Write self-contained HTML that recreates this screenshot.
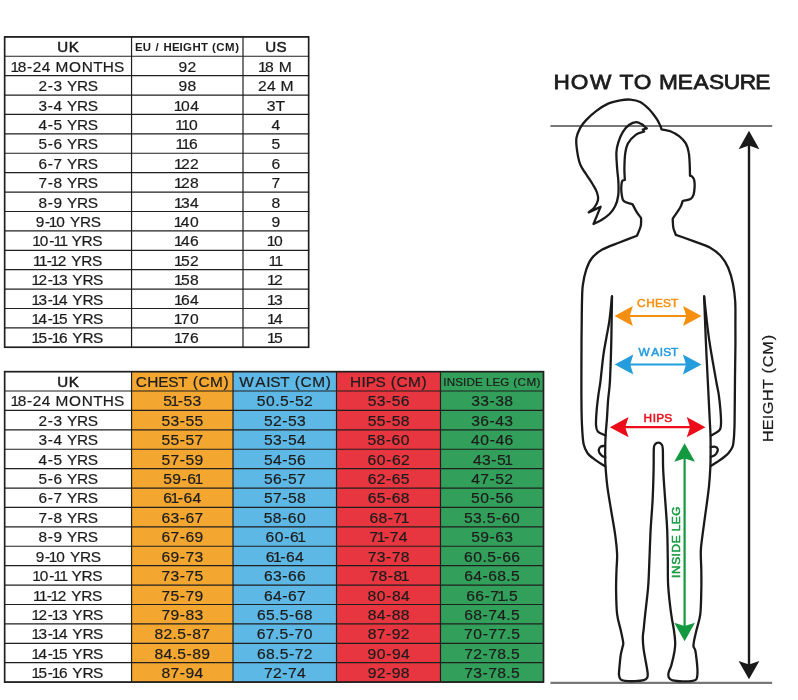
<!DOCTYPE html>
<html lang="en"><head><meta charset="utf-8"><title>Size guide - How to measure</title>
<style>
html,body{margin:0;padding:0;background:#fff;}
body{width:798px;height:700px;overflow:hidden;font-family:"Liberation Sans",sans-serif;}
svg{display:block;position:absolute;left:0;top:0;}
text{font-family:"Liberation Sans",sans-serif;fill:#1c1c1c;text-anchor:middle;}
.gl{stroke:#1f1f1f;stroke-width:1.2;}
.ob{fill:none;stroke:#1f1f1f;stroke-width:1.55;}
.a{font-size:14px;stroke:#1c1c1c;stroke-width:0.2px;}
.d{font-size:14px;stroke:#1c1c1c;stroke-width:0.2px;}
.h{font-size:14px;stroke:#1c1c1c;stroke-width:0.5px;}
.hs{font-size:10.8px;font-weight:bold;}
.hc{font-size:14px;stroke:#1c1c1c;stroke-width:0.2px;}
.hi{font-size:11px;stroke:#1c1c1c;stroke-width:0.2px;}
.ttl{font-size:21px;stroke:#1c1c1c;stroke-width:0.75px;}
.lb{font-size:11px;stroke-width:0.5px;}
.hgt{font-size:15px;stroke:#1c1c1c;stroke-width:0.2px;}
</style></head>
<body>
<svg width="798" height="700" viewBox="0 0 798 700">
<rect width="798" height="700" fill="#fff"/>
<g id="tables">
<line class="gl" x1="4.05" x2="309.15" y1="36.85" y2="36.85"/>
<line class="gl" x1="4.05" x2="309.15" y1="56.25" y2="56.25"/>
<line class="gl" x1="4.05" x2="309.15" y1="75.66" y2="75.66"/>
<line class="gl" x1="4.05" x2="309.15" y1="95.06" y2="95.06"/>
<line class="gl" x1="4.05" x2="309.15" y1="114.46" y2="114.46"/>
<line class="gl" x1="4.05" x2="309.15" y1="133.87" y2="133.87"/>
<line class="gl" x1="4.05" x2="309.15" y1="153.27" y2="153.27"/>
<line class="gl" x1="4.05" x2="309.15" y1="172.67" y2="172.67"/>
<line class="gl" x1="4.05" x2="309.15" y1="192.07" y2="192.07"/>
<line class="gl" x1="4.05" x2="309.15" y1="211.48" y2="211.48"/>
<line class="gl" x1="4.05" x2="309.15" y1="230.88" y2="230.88"/>
<line class="gl" x1="4.05" x2="309.15" y1="250.28" y2="250.28"/>
<line class="gl" x1="4.05" x2="309.15" y1="269.69" y2="269.69"/>
<line class="gl" x1="4.05" x2="309.15" y1="289.09" y2="289.09"/>
<line class="gl" x1="4.05" x2="309.15" y1="308.49" y2="308.49"/>
<line class="gl" x1="4.05" x2="309.15" y1="327.9" y2="327.9"/>
<line class="gl" x1="4.05" x2="309.15" y1="347.3" y2="347.3"/>
<line class="gl" x1="4.6" x2="4.6" y1="36.85" y2="347.3"/>
<line class="gl" x1="131.55" x2="131.55" y1="36.85" y2="347.3"/>
<line class="gl" x1="243" x2="243" y1="36.85" y2="347.3"/>
<line class="gl" x1="308.6" x2="308.6" y1="36.85" y2="347.3"/>
<rect class="ob" x="4.6" y="36.85" width="304" height="310.45"/>
<text class="h" transform="translate(68.08 52.25) scale(1.08 1)" x="-5.01 5.3">UK</text>
<text class="hs" transform="translate(187.28 51.25) scale(1.06 1)" x="-45.7 -38.18 -32.51 -28.39 -24.27 -18.48 -10.85 -5.79 0.22 8.79 16.25 21.26 25.05 31.28 40.19 47.09">EU / HEIGHT (CM)</text>
<text class="h" transform="translate(275.8 52.25) scale(1.08 1)" x="-4.64 5.3">US</text>
<text class="a" transform="translate(68.08 71.7) scale(1.1 1)" x="-48.4 -41.9 -35.08 -28.26 -20.07 -13.86 -5.63 6.28 17.49 27.13 36.63 46.35">18-24 MONTHS</text>
<text class="d" transform="translate(187.28 71.7) scale(1.12 1)" x="-4.02 4.02">92</text>
<text class="d" transform="translate(275.8 71.7) scale(1.12 1)" x="-12.1 -5.71 0.4 8.48">18 M</text>
<text class="a" transform="translate(68.08 91.11) scale(1.1 1)" x="-22.92 -16.1 -9.27 -3.06 3.75 13.25 22.54">2-3 YRS</text>
<text class="d" transform="translate(187.28 91.11) scale(1.12 1)" x="-4.02 4.02">98</text>
<text class="d" transform="translate(275.8 91.11) scale(1.12 1)" x="-12.1 -4.06 2.05 10.13">24 M</text>
<text class="a" transform="translate(68.08 110.51) scale(1.1 1)" x="-22.92 -16.1 -9.27 -3.06 3.75 13.25 22.54">3-4 YRS</text>
<text class="d" transform="translate(187.28 110.51) scale(1.12 1)" x="-8.27 -1.65 6.62">104</text>
<text class="d" transform="translate(275.8 110.51) scale(1.12 1)" x="-4.18 4.02">3T</text>
<text class="a" transform="translate(68.08 129.91) scale(1.1 1)" x="-22.92 -16.1 -9.27 -3.06 3.75 13.25 22.54">4-5 YRS</text>
<text class="d" transform="translate(187.28 129.91) scale(1.12 1)" x="-6.93 -1.57 5.36">110</text>
<text class="d" transform="translate(275.8 129.91) scale(1.12 1)" x="0">4</text>
<text class="a" transform="translate(68.08 149.32) scale(1.1 1)" x="-22.92 -16.1 -9.27 -3.06 3.75 13.25 22.54">5-6 YRS</text>
<text class="d" transform="translate(187.28 149.32) scale(1.12 1)" x="-6.7 -1.34 5.36">116</text>
<text class="d" transform="translate(275.8 149.32) scale(1.12 1)" x="0">5</text>
<text class="a" transform="translate(68.08 168.72) scale(1.1 1)" x="-22.92 -16.1 -9.27 -3.06 3.75 13.25 22.54">6-7 YRS</text>
<text class="d" transform="translate(187.28 168.72) scale(1.12 1)" x="-8.04 -1.65 6.39">122</text>
<text class="d" transform="translate(275.8 168.72) scale(1.12 1)" x="0">6</text>
<text class="a" transform="translate(68.08 188.12) scale(1.1 1)" x="-22.92 -16.1 -9.27 -3.06 3.75 13.25 22.54">7-8 YRS</text>
<text class="d" transform="translate(187.28 188.12) scale(1.12 1)" x="-8.04 -1.65 6.39">128</text>
<text class="d" transform="translate(275.8 188.12) scale(1.12 1)" x="0">7</text>
<text class="a" transform="translate(68.08 207.53) scale(1.1 1)" x="-22.92 -16.1 -9.27 -3.06 3.75 13.25 22.54">8-9 YRS</text>
<text class="d" transform="translate(187.28 207.53) scale(1.12 1)" x="-8.04 -1.65 6.39">134</text>
<text class="d" transform="translate(275.8 207.53) scale(1.12 1)" x="0">8</text>
<text class="a" transform="translate(68.08 226.93) scale(1.1 1)" x="-25.56 -18.74 -13.6 -6.86 -0.41 6.4 15.9 25.19">9-10 YRS</text>
<text class="d" transform="translate(187.28 226.93) scale(1.12 1)" x="-8.27 -1.88 6.39">140</text>
<text class="d" transform="translate(275.8 226.93) scale(1.12 1)" x="0">9</text>
<text class="a" transform="translate(68.08 246.33) scale(1.1 1)" x="-28.61 -21.88 -14.82 -9.36 -3.9 0.96 7.76 17.27 26.56">10-11 YRS</text>
<text class="d" transform="translate(187.28 246.33) scale(1.12 1)" x="-8.04 -1.65 6.39">146</text>
<text class="d" transform="translate(275.8 246.33) scale(1.12 1)" x="-4.25 2.37">10</text>
<text class="a" transform="translate(68.08 265.74) scale(1.1 1)" x="-28.06 -22.6 -17.14 -12 -5.5 0.72 7.53 17.03 26.32">11-12 YRS</text>
<text class="d" transform="translate(187.28 265.74) scale(1.12 1)" x="-8.04 -1.65 6.39">152</text>
<text class="d" transform="translate(275.8 265.74) scale(1.12 1)" x="-2.68 2.68">11</text>
<text class="a" transform="translate(68.08 285.14) scale(1.1 1)" x="-29.42 -22.92 -16.1 -10.96 -4.45 1.77 8.57 18.07 27.36">12-13 YRS</text>
<text class="d" transform="translate(187.28 285.14) scale(1.12 1)" x="-8.04 -1.65 6.39">158</text>
<text class="d" transform="translate(275.8 285.14) scale(1.12 1)" x="-4.02 2.37">12</text>
<text class="a" transform="translate(68.08 304.54) scale(1.1 1)" x="-29.42 -22.92 -16.1 -10.96 -4.45 1.77 8.57 18.07 27.36">13-14 YRS</text>
<text class="d" transform="translate(187.28 304.54) scale(1.12 1)" x="-8.04 -1.65 6.39">164</text>
<text class="d" transform="translate(275.8 304.54) scale(1.12 1)" x="-4.02 2.37">13</text>
<text class="a" transform="translate(68.08 323.95) scale(1.1 1)" x="-29.42 -22.92 -16.1 -10.96 -4.45 1.77 8.57 18.07 27.36">14-15 YRS</text>
<text class="d" transform="translate(187.28 323.95) scale(1.12 1)" x="-8.27 -1.88 6.39">170</text>
<text class="d" transform="translate(275.8 323.95) scale(1.12 1)" x="-4.02 2.37">14</text>
<text class="a" transform="translate(68.08 343.35) scale(1.1 1)" x="-29.42 -22.92 -16.1 -10.96 -4.45 1.77 8.57 18.07 27.36">15-16 YRS</text>
<text class="d" transform="translate(187.28 343.35) scale(1.12 1)" x="-8.04 -1.65 6.39">176</text>
<text class="d" transform="translate(275.8 343.35) scale(1.12 1)" x="-4.02 2.37">15</text>
<rect x="131.55" y="371.6" width="101.45" height="310.5" fill="#F4A730"/>
<rect x="233" y="371.6" width="103.5" height="310.5" fill="#5EB8E5"/>
<rect x="336.5" y="371.6" width="104" height="310.5" fill="#E83640"/>
<rect x="440.5" y="371.6" width="103" height="310.5" fill="#32A05A"/>
<line class="gl" x1="4.05" x2="544.05" y1="371.6" y2="371.6"/>
<line class="gl" x1="4.05" x2="544.05" y1="391.01" y2="391.01"/>
<line class="gl" x1="4.05" x2="544.05" y1="410.41" y2="410.41"/>
<line class="gl" x1="4.05" x2="544.05" y1="429.82" y2="429.82"/>
<line class="gl" x1="4.05" x2="544.05" y1="449.23" y2="449.23"/>
<line class="gl" x1="4.05" x2="544.05" y1="468.63" y2="468.63"/>
<line class="gl" x1="4.05" x2="544.05" y1="488.04" y2="488.04"/>
<line class="gl" x1="4.05" x2="544.05" y1="507.44" y2="507.44"/>
<line class="gl" x1="4.05" x2="544.05" y1="526.85" y2="526.85"/>
<line class="gl" x1="4.05" x2="544.05" y1="546.26" y2="546.26"/>
<line class="gl" x1="4.05" x2="544.05" y1="565.66" y2="565.66"/>
<line class="gl" x1="4.05" x2="544.05" y1="585.07" y2="585.07"/>
<line class="gl" x1="4.05" x2="544.05" y1="604.48" y2="604.48"/>
<line class="gl" x1="4.05" x2="544.05" y1="623.88" y2="623.88"/>
<line class="gl" x1="4.05" x2="544.05" y1="643.29" y2="643.29"/>
<line class="gl" x1="4.05" x2="544.05" y1="662.69" y2="662.69"/>
<line class="gl" x1="4.05" x2="544.05" y1="682.1" y2="682.1"/>
<line class="gl" x1="4.6" x2="4.6" y1="371.6" y2="682.1"/>
<line class="gl" x1="131.55" x2="131.55" y1="371.6" y2="682.1"/>
<line class="gl" x1="233" x2="233" y1="371.6" y2="682.1"/>
<line class="gl" x1="336.5" x2="336.5" y1="371.6" y2="682.1"/>
<line class="gl" x1="440.5" x2="440.5" y1="371.6" y2="682.1"/>
<line class="gl" x1="543.5" x2="543.5" y1="371.6" y2="682.1"/>
<rect class="ob" x="4.6" y="371.6" width="538.9" height="310.5"/>
<text class="h" transform="translate(68.08 387) scale(1.08 1)" x="-5.01 5.3">UK</text>
<text class="hc" transform="translate(182.28 387.05) scale(1.1 1)" x="-37.3 -26.8 -17.09 -8.15 0.57 6.95 11.77 19.71 31.06 39.85">CHEST (CM)</text>
<text class="hc" transform="translate(284.75 387.05) scale(1.1 1)" x="-34.82 -22.12 -14.89 -8.44 0.28 6.67 11.49 19.43 30.77 39.57">WAIST (CM)</text>
<text class="hc" transform="translate(388.5 387.05) scale(1.1 1)" x="-29.85 -22.62 -16.1 -7.09 -0.5 4.33 12.27 23.61 32.41">HIPS (CM)</text>
<text class="hi" transform="translate(492 386.05) scale(1.06 1)" x="-44.47 -38.7 -30.98 -25.93 -20.15 -12.44 -7.27 -2.5 4.11 12.05 18.15 21.93 28.15 37.03 43.92">INSIDE LEG (CM)</text>
<text class="a" transform="translate(68.08 406.46) scale(1.1 1)" x="-48.4 -41.9 -35.08 -28.26 -20.07 -13.86 -5.63 6.28 17.49 27.13 36.63 46.35">18-24 MONTHS</text>
<text class="d" transform="translate(182.28 406.46) scale(1.12 1)" x="-13.09 -6.7 -1.65 5.05 13.09">51-53</text>
<text class="d" transform="translate(284.75 406.46) scale(1.12 1)" x="-21.04 -12.77 -6.47 -0.4 6.3 13 21.04">50.5-52</text>
<text class="d" transform="translate(388.5 406.46) scale(1.12 1)" x="-14.74 -6.7 0 6.7 14.74">53-56</text>
<text class="d" transform="translate(492 406.46) scale(1.12 1)" x="-14.74 -6.7 0 6.7 14.74">33-38</text>
<text class="a" transform="translate(68.08 425.87) scale(1.1 1)" x="-22.92 -16.1 -9.27 -3.06 3.75 13.25 22.54">2-3 YRS</text>
<text class="d" transform="translate(182.28 425.87) scale(1.12 1)" x="-14.74 -6.7 0 6.7 14.74">53-55</text>
<text class="d" transform="translate(284.75 425.87) scale(1.12 1)" x="-14.74 -6.7 0 6.7 14.74">52-53</text>
<text class="d" transform="translate(388.5 425.87) scale(1.12 1)" x="-14.74 -6.7 0 6.7 14.74">55-58</text>
<text class="d" transform="translate(492 425.87) scale(1.12 1)" x="-14.74 -6.7 0 6.7 14.74">36-43</text>
<text class="a" transform="translate(68.08 445.27) scale(1.1 1)" x="-22.92 -16.1 -9.27 -3.06 3.75 13.25 22.54">3-4 YRS</text>
<text class="d" transform="translate(182.28 445.27) scale(1.12 1)" x="-14.74 -6.7 0 6.7 14.74">55-57</text>
<text class="d" transform="translate(284.75 445.27) scale(1.12 1)" x="-14.74 -6.7 0 6.7 14.74">53-54</text>
<text class="d" transform="translate(388.5 445.27) scale(1.12 1)" x="-14.97 -6.93 -0.23 6.47 14.74">58-60</text>
<text class="d" transform="translate(492 445.27) scale(1.12 1)" x="-14.97 -6.7 0.23 6.93 14.97">40-46</text>
<text class="a" transform="translate(68.08 464.68) scale(1.1 1)" x="-22.92 -16.1 -9.27 -3.06 3.75 13.25 22.54">4-5 YRS</text>
<text class="d" transform="translate(182.28 464.68) scale(1.12 1)" x="-14.74 -6.7 0 6.7 14.74">57-59</text>
<text class="d" transform="translate(284.75 464.68) scale(1.12 1)" x="-14.74 -6.7 0 6.7 14.74">54-56</text>
<text class="d" transform="translate(388.5 464.68) scale(1.12 1)" x="-14.97 -6.7 0.23 6.93 14.97">60-62</text>
<text class="d" transform="translate(492 464.68) scale(1.12 1)" x="-13.09 -5.05 1.65 8.35 14.74">43-51</text>
<text class="a" transform="translate(68.08 484.08) scale(1.1 1)" x="-22.92 -16.1 -9.27 -3.06 3.75 13.25 22.54">5-6 YRS</text>
<text class="d" transform="translate(182.28 484.08) scale(1.12 1)" x="-13.09 -5.05 1.65 8.35 14.74">59-61</text>
<text class="d" transform="translate(284.75 484.08) scale(1.12 1)" x="-14.74 -6.7 0 6.7 14.74">56-57</text>
<text class="d" transform="translate(388.5 484.08) scale(1.12 1)" x="-14.74 -6.7 0 6.7 14.74">62-65</text>
<text class="d" transform="translate(492 484.08) scale(1.12 1)" x="-14.74 -6.7 0 6.7 14.74">47-52</text>
<text class="a" transform="translate(68.08 503.49) scale(1.1 1)" x="-22.92 -16.1 -9.27 -3.06 3.75 13.25 22.54">6-7 YRS</text>
<text class="d" transform="translate(182.28 503.49) scale(1.12 1)" x="-13.09 -6.7 -1.65 5.05 13.09">61-64</text>
<text class="d" transform="translate(284.75 503.49) scale(1.12 1)" x="-14.74 -6.7 0 6.7 14.74">57-58</text>
<text class="d" transform="translate(388.5 503.49) scale(1.12 1)" x="-14.74 -6.7 0 6.7 14.74">65-68</text>
<text class="d" transform="translate(492 503.49) scale(1.12 1)" x="-14.97 -6.7 0.23 6.93 14.97">50-56</text>
<text class="a" transform="translate(68.08 522.9) scale(1.1 1)" x="-22.92 -16.1 -9.27 -3.06 3.75 13.25 22.54">7-8 YRS</text>
<text class="d" transform="translate(182.28 522.9) scale(1.12 1)" x="-14.74 -6.7 0 6.7 14.74">63-67</text>
<text class="d" transform="translate(284.75 522.9) scale(1.12 1)" x="-14.97 -6.93 -0.23 6.47 14.74">58-60</text>
<text class="d" transform="translate(388.5 522.9) scale(1.12 1)" x="-13.09 -5.05 1.65 8.35 14.74">68-71</text>
<text class="d" transform="translate(492 522.9) scale(1.12 1)" x="-21.04 -13 -6.93 -0.86 5.84 12.54 20.81">53.5-60</text>
<text class="a" transform="translate(68.08 542.3) scale(1.1 1)" x="-22.92 -16.1 -9.27 -3.06 3.75 13.25 22.54">8-9 YRS</text>
<text class="d" transform="translate(182.28 542.3) scale(1.12 1)" x="-14.74 -6.7 0 6.7 14.74">67-69</text>
<text class="d" transform="translate(284.75 542.3) scale(1.12 1)" x="-13.32 -5.05 1.88 8.58 14.97">60-61</text>
<text class="d" transform="translate(388.5 542.3) scale(1.12 1)" x="-13.09 -6.7 -1.65 5.05 13.09">71-74</text>
<text class="d" transform="translate(492 542.3) scale(1.12 1)" x="-14.74 -6.7 0 6.7 14.74">59-63</text>
<text class="a" transform="translate(68.08 561.71) scale(1.1 1)" x="-25.56 -18.74 -13.6 -6.86 -0.41 6.4 15.9 25.19">9-10 YRS</text>
<text class="d" transform="translate(182.28 561.71) scale(1.12 1)" x="-14.74 -6.7 0 6.7 14.74">69-73</text>
<text class="d" transform="translate(284.75 561.71) scale(1.12 1)" x="-13.09 -6.7 -1.65 5.05 13.09">61-64</text>
<text class="d" transform="translate(388.5 561.71) scale(1.12 1)" x="-14.74 -6.7 0 6.7 14.74">73-78</text>
<text class="d" transform="translate(492 561.71) scale(1.12 1)" x="-21.04 -12.77 -6.47 -0.4 6.3 13 21.04">60.5-66</text>
<text class="a" transform="translate(68.08 581.12) scale(1.1 1)" x="-28.61 -21.88 -14.82 -9.36 -3.9 0.96 7.76 17.27 26.56">10-11 YRS</text>
<text class="d" transform="translate(182.28 581.12) scale(1.12 1)" x="-14.74 -6.7 0 6.7 14.74">73-75</text>
<text class="d" transform="translate(284.75 581.12) scale(1.12 1)" x="-14.74 -6.7 0 6.7 14.74">63-66</text>
<text class="d" transform="translate(388.5 581.12) scale(1.12 1)" x="-13.09 -5.05 1.65 8.35 14.74">78-81</text>
<text class="d" transform="translate(492 581.12) scale(1.12 1)" x="-20.81 -12.77 -6.07 0.63 8.66 14.74 20.81">64-68.5</text>
<text class="a" transform="translate(68.08 600.52) scale(1.1 1)" x="-28.06 -22.6 -17.14 -12 -5.5 0.72 7.53 17.03 26.32">11-12 YRS</text>
<text class="d" transform="translate(182.28 600.52) scale(1.12 1)" x="-14.74 -6.7 0 6.7 14.74">75-79</text>
<text class="d" transform="translate(284.75 600.52) scale(1.12 1)" x="-14.74 -6.7 0 6.7 14.74">64-67</text>
<text class="d" transform="translate(388.5 600.52) scale(1.12 1)" x="-14.97 -6.7 0.23 6.93 14.97">80-84</text>
<text class="d" transform="translate(492 600.52) scale(1.12 1)" x="-19.16 -11.12 -4.42 2.28 8.66 13.09 19.16">66-71.5</text>
<text class="a" transform="translate(68.08 619.93) scale(1.1 1)" x="-29.42 -22.92 -16.1 -10.96 -4.45 1.77 8.57 18.07 27.36">12-13 YRS</text>
<text class="d" transform="translate(182.28 619.93) scale(1.12 1)" x="-14.74 -6.7 0 6.7 14.74">79-83</text>
<text class="d" transform="translate(284.75 619.93) scale(1.12 1)" x="-20.81 -12.77 -6.7 -0.63 6.07 12.77 20.81">65.5-68</text>
<text class="d" transform="translate(388.5 619.93) scale(1.12 1)" x="-14.74 -6.7 0 6.7 14.74">84-88</text>
<text class="d" transform="translate(492 619.93) scale(1.12 1)" x="-20.81 -12.77 -6.07 0.63 8.66 14.74 20.81">68-74.5</text>
<text class="a" transform="translate(68.08 639.33) scale(1.1 1)" x="-29.42 -22.92 -16.1 -10.96 -4.45 1.77 8.57 18.07 27.36">13-14 YRS</text>
<text class="d" transform="translate(182.28 639.33) scale(1.12 1)" x="-20.81 -12.77 -6.7 -0.63 6.07 12.77 20.81">82.5-87</text>
<text class="d" transform="translate(284.75 639.33) scale(1.12 1)" x="-21.04 -13 -6.93 -0.86 5.84 12.54 20.81">67.5-70</text>
<text class="d" transform="translate(388.5 639.33) scale(1.12 1)" x="-14.74 -6.7 0 6.7 14.74">87-92</text>
<text class="d" transform="translate(492 639.33) scale(1.12 1)" x="-21.04 -12.77 -5.84 0.86 8.89 14.97 21.04">70-77.5</text>
<text class="a" transform="translate(68.08 658.74) scale(1.1 1)" x="-29.42 -22.92 -16.1 -10.96 -4.45 1.77 8.57 18.07 27.36">14-15 YRS</text>
<text class="d" transform="translate(182.28 658.74) scale(1.12 1)" x="-20.81 -12.77 -6.7 -0.63 6.07 12.77 20.81">84.5-89</text>
<text class="d" transform="translate(284.75 658.74) scale(1.12 1)" x="-20.81 -12.77 -6.7 -0.63 6.07 12.77 20.81">68.5-72</text>
<text class="d" transform="translate(388.5 658.74) scale(1.12 1)" x="-14.97 -6.7 0.23 6.93 14.97">90-94</text>
<text class="d" transform="translate(492 658.74) scale(1.12 1)" x="-20.81 -12.77 -6.07 0.63 8.66 14.74 20.81">72-78.5</text>
<text class="a" transform="translate(68.08 678.15) scale(1.1 1)" x="-29.42 -22.92 -16.1 -10.96 -4.45 1.77 8.57 18.07 27.36">15-16 YRS</text>
<text class="d" transform="translate(182.28 678.15) scale(1.12 1)" x="-14.74 -6.7 0 6.7 14.74">87-94</text>
<text class="d" transform="translate(284.75 678.15) scale(1.12 1)" x="-14.74 -6.7 0 6.7 14.74">72-74</text>
<text class="d" transform="translate(388.5 678.15) scale(1.12 1)" x="-14.74 -6.7 0 6.7 14.74">92-98</text>
<text class="d" transform="translate(492 678.15) scale(1.12 1)" x="-20.81 -12.77 -6.07 0.63 8.66 14.74 20.81">73-78.5</text>
</g>
<g id="figure">
<line x1="550.4" x2="772.2" y1="126" y2="126" stroke="#787878" stroke-width="2.15"/>
<line x1="550.4" x2="772.2" y1="682.9" y2="682.9" stroke="#787878" stroke-width="2.15"/>
<g fill="none" stroke="#1a1a1a" stroke-width="2.3" stroke-linejoin="round" stroke-linecap="round">
<path d="M660.8 126.7C659.7 124.6 658.8 122.3 657.6 120.3C656.4 118.3 655 116.5 653.5 114.5C652 112.5 650.6 110.6 648.4 108.5C646.2 106.4 643.2 103.5 640.2 102C637.2 100.5 633.5 99.9 630.2 99.6C626.9 99.3 623.9 99.7 620.2 100.4C616.5 101.1 612.1 101.8 608.1 103.6C604.1 105.4 599.8 108.3 596.1 111.1C592.4 113.8 588.8 117.3 586.1 120.1C583.4 122.9 581.7 125.1 580.1 128.1C578.5 131.1 576.9 134.4 576.4 138.1C575.9 141.8 576.4 145.8 577 150.2C577.6 154.5 578.6 160.2 580.1 164.2C581.6 168.2 584 170.9 586.1 174.2C588.2 177.5 590.7 180.9 592.5 184C594.3 187.1 596.1 189.8 597 192.5C597.9 195.2 598.5 197.5 598 200C597.5 202.5 595.8 205.6 594.3 207.7C592.8 209.8 590.5 210.8 588.7 212.4C592.6 210.6 596.7 208.6 600.6 206.8C598.3 212.5 595.8 218.3 593.5 224C596.1 222.7 598.8 221.7 601.5 220C604.2 218.3 607.2 216.3 609.5 214C611.8 211.7 613.6 209.4 615.1 206.3C616.6 203.2 617.7 199.6 618.2 195.5C618.8 191.4 618.6 186.6 618.4 182C618.2 177.4 617.4 172.7 617.1 167.8C616.8 162.9 616.2 156.7 616.4 152.4C616.6 148.1 617.3 145.5 618.4 142.1C619.5 138.7 621.1 134.8 622.9 131.9C624.7 129 627.1 126.4 629.3 124.8C631.5 123.2 634.3 122.3 636.3 122.2C638.3 122.1 639.8 123.1 641.5 124.1C643.2 125.1 644.9 127 646.6 128.4"/>
<path d="M646.6 128.4C645.3 128.8 644.1 129.2 642.8 129.6C643.2 130.2 643.7 130.9 644.1 131.5C641.3 132.6 638.4 132.8 635.7 134.8C633 136.8 629.8 140.2 628 143.4C626.2 146.6 625.8 149.6 625.2 153.7C624.6 157.8 624.5 163.4 624.4 167.8C624.3 172.2 624.7 176 624.8 180C623.9 180.3 622.8 179.8 622.2 181C621.6 182.2 621.4 184.8 621.3 187.1C621.2 189.4 621.4 192.7 621.8 195C622.2 197.3 622.1 199.6 623.9 201.2C625.7 202.8 629.7 203.3 632.6 204.4C633.8 206.7 634.9 209 636.3 211.3C637.7 213.6 639.5 215.9 641.1 218.2C641 220.9 641.4 223.4 640.7 226.3C640 229.2 638.2 232.6 636.9 235.7C631.1 237.9 625.2 240.2 619.4 242.5C613.6 244.8 606.9 247 602.3 249.6C597.7 252.2 594.7 254.7 592 258C589.3 261.3 587.8 264.8 586.3 269.4C584.8 274 583.5 280.1 582.8 285.4C582.1 290.7 582.2 294.9 582 301.4C581.8 307.9 581.8 316.6 581.7 324.2C581.6 331.8 581.5 335.3 581.5 347C581.5 358.7 581.3 381.5 581.4 394.3C581.5 407.1 581.5 415.3 581.9 423.6C582.3 431.9 582.6 439.2 583.6 444.1C584.6 449 585.6 450.5 587.6 453.2C589.6 455.9 592.7 457.9 595.6 460.1C598.5 462.3 602.1 464.3 605.3 466.4"/>
<path d="M660.8 126.7C661 127.6 661.2 128.4 661.4 129.3C664.4 129.9 667.4 130 670.4 131.2C673.4 132.4 676.8 134.3 679.4 136.3C682 138.3 684.2 140.7 685.8 143.4C687.3 146.1 688.1 149 688.7 152.4C689.4 155.8 689.5 160.1 689.7 164C689.9 167.9 689.9 171.8 690 175.6C690.8 176 691.6 176.1 692.3 176.8C693 177.6 693.8 178.4 694.2 180.1C694.6 181.8 694.7 184.6 694.6 187.1C694.5 189.6 694.2 192.8 693.5 194.8C692.8 196.8 692.4 198 690.6 199C688.8 200 685.3 200.3 682.7 201C681.9 203.1 681.9 204.5 680.2 207.5C678.5 210.5 675.2 215.1 672.7 218.8C672.9 221.7 672.8 224.9 673.3 227.6C673.8 230.3 675 232.4 675.8 234.8C682.1 237 689.1 239.5 694.8 241.6C700.5 243.7 705.5 245 709.8 247.4C714.1 249.8 717.7 252.6 720.8 256C723.9 259.4 726.3 263.3 728.3 268C730.3 272.7 731.9 278.4 733 284C734.1 289.6 734.8 294.7 735.2 301.4C735.6 308.1 735.4 316.6 735.4 324.2C735.4 331.8 735.5 338.2 735.4 347C735.3 355.8 735.1 364.9 735 377.2C734.9 389.5 734.7 412 734.6 421C734.5 430 734.4 428 734.3 431C734.2 434 734.1 436.4 733.8 439C733.5 441.6 733.5 444.3 732.6 446.6C731.7 448.9 730.2 451 728.6 452.9C727 454.8 724.8 456.5 722.9 458C721 459.5 719.1 460.7 717.1 462C715.1 463.3 712.9 464.7 710.8 466"/>
<path d="M612 296.4C611.8 309.8 611.7 323.2 611.4 337.1C611.1 351 610.5 369.5 610 380C609.5 390.5 608.6 393.7 608.1 400C607.6 406.3 607.4 411.9 607 417.8C606.6 423.7 605.9 429.8 605.6 435.5C605.3 441.2 605.2 446.9 605.2 452C605.2 457.1 605.1 460.7 605.5 466.4C605.9 472.1 606.4 478.8 607.3 486.1C608.2 493.4 609.8 502.2 611.1 510.2C612.4 518.2 614.1 526.9 615.1 534.3C616.1 541.6 616.9 548.3 617.1 554.3C617.3 560.2 616.7 564 616.5 570C616.3 576 616 582.6 616.1 590C616.2 597.4 616.3 607.4 617.1 614.1C617.9 620.8 619.7 625.3 620.7 630C621.7 634.7 622.9 639.7 623.2 642.5C623.5 645.3 623 644.7 622.6 646.8C622.2 648.9 621.2 651.6 620.7 655.1C620.2 658.6 619.7 664.3 619.4 667.6C619.1 670.9 618.8 673.1 619 675.1C619.2 677.1 619.7 678.5 620.7 679.5C621.7 680.5 622.6 680.6 625 680.9C627.4 681.2 632 681.3 635.1 681.2C638.2 681.1 641.8 680.8 643.8 680.2C645.8 679.6 646.7 678.9 647.3 677.6C647.9 676.3 647.9 675.3 647.6 672.6C647.3 669.9 646.4 665.3 645.7 661.3C645 657.3 644.1 652.8 643.6 648.8C643.1 644.8 642.8 640.6 642.8 637.5C642.8 634.4 643.2 633.9 643.6 630C644 626.1 644.4 621.4 645.2 614.1C646 606.8 647.5 595.1 648.2 586.1C648.9 577.1 649 569.3 649.4 560C649.8 550.7 650.1 540.3 650.6 530.3C651.1 520.3 652.1 510.2 652.6 500.2C653.1 490.2 653.4 478.6 653.6 470.1C653.8 461.6 653.6 453.3 653.8 449C654 444.7 654.2 445.6 655 444.5C655.8 443.4 657.2 442.6 658.3 442.6C659.4 442.6 660.9 443.4 661.6 444.5C662.4 445.6 662.5 444.7 662.8 449C663.1 453.3 662.8 461.6 663.2 470.1C663.6 478.6 664.5 490.2 665.2 500.2C665.9 510.2 666.8 520.3 667.2 530.3C667.6 540.3 667.6 550.7 667.8 560C668 569.3 667.6 577.1 668.2 586.1C668.8 595.1 670.2 606.8 671.2 614.1C672.2 621.4 673.2 625.3 673.9 630C674.6 634.7 675.1 639 675.2 642.5C675.3 646 675.1 647.5 674.5 651.3C673.9 655.1 672.4 661.5 671.4 665.1C670.4 668.7 669 670.5 668.6 672.6C668.2 674.7 668.2 676.3 668.9 677.6C669.6 678.9 670.4 679.8 672.7 680.4C675 681 679.4 681.3 682.7 681.4C686 681.5 690.4 681.2 692.7 680.8C695 680.4 695.7 680.5 696.5 678.9C697.3 677.3 697.5 674.8 697.5 671.4C697.5 668 696.9 662.3 696.5 658.8C696.1 655.2 695.7 652.2 695.2 650.1C694.7 648 693.7 648 693.5 646.3C693.3 644.6 693.7 642.7 694.2 640C694.7 637.3 695.5 634.3 696.5 630C697.5 625.7 699.5 620.8 700.3 614.1C701.1 607.4 701.1 597.4 701.3 590C701.5 582.6 701.4 576.5 701.3 570C701.2 563.5 700.6 557 700.8 551C701 545 701.8 541.1 702.6 534.3C703.5 527.5 704.8 518.2 705.9 510.2C707 502.2 708.3 493.1 709 486.1C709.7 479.1 710 473.7 710.3 468C710.6 462.3 710.6 457.5 710.6 452C710.6 446.5 710.7 440.8 710.5 435C710.3 429.2 710 425.3 709.6 417C709.2 408.7 708.6 397.8 708 385C707.4 372.2 706.4 354.8 705.8 340C705.1 325.2 704.7 310.8 704.1 296.4"/>
<path d="M612 296.4C611.2 304.2 610.4 313.2 609.5 320C608.6 326.8 607.5 331.2 606.5 337C605.5 342.8 604.4 347.7 603.4 355C602.4 362.3 601.3 374.3 600.5 381C599.7 387.7 599 390.2 598.4 395C597.8 399.8 597.1 404.9 596.7 409.8C596.3 414.8 595.8 421.1 596 424.7C596.2 428.3 596.2 429.7 597.8 431.5C599.4 433.3 603 434.2 605.5 435.5"/>
<path d="M704.1 296.4C705.7 310.3 707 324.7 709 338.6C711 352.5 714.4 370.6 716 380C717.6 389.4 718.1 390 718.8 395C719.5 400 720 405 720.4 409.8C720.8 414.6 721.2 420.2 721 423.6C720.8 427 721.1 428.2 719.4 430.2C717.7 432.2 713.6 433.9 710.8 435.7"/>
<path d="M605 445.8C603.6 446.1 601.7 445.9 600.7 446.6C599.7 447.3 599 448.7 598.8 449.8C598.6 450.9 599 452.1 599.6 453.2C600.2 454.2 601.5 455.4 602.4 456.1C603.3 456.8 604.3 456.8 605.3 457.2"/>
<path d="M710.8 447C712.3 446.9 714.2 446.5 715.4 446.8C716.5 447.1 717.4 448.1 717.7 449C718 449.9 717.6 451.3 717.1 452.3C716.6 453.3 716 454.3 714.9 455.1C713.8 455.9 712.2 456.4 710.8 457"/>
</g>
<line y1="144.6" y2="665.5" x1="749" x2="749" stroke="#1a1a1a" stroke-width="2.4"/><path fill="#1a1a1a" d="M749 130.8L738.6 149.2L749 145.6L759.4 149.2Z"/><path fill="#1a1a1a" d="M749 679.3L738.6 660.9L749 664.5L759.4 660.9Z"/>
<line x1="628.7" x2="687.3" y1="316" y2="316" stroke="#F58F10" stroke-width="1.9"/><path fill="#F58F10" d="M614.5 316L632.9 306.1L629.7 316L632.9 325.9Z"/><path fill="#F58F10" d="M701.5 316L683.1 306.1L686.3 316L683.1 325.9Z"/>
<line x1="629.2" x2="687" y1="364.5" y2="364.5" stroke="#259DDC" stroke-width="1.9"/><path fill="#259DDC" d="M614.7 364.5L633.3 354.6L630.2 364.5L633.3 374.4Z"/><path fill="#259DDC" d="M701.5 364.5L682.9 354.6L686 364.5L682.9 374.4Z"/>
<line x1="624.2" x2="691.1" y1="427.2" y2="427.2" stroke="#EC0C1A" stroke-width="2.3"/><path fill="#EC0C1A" d="M609.8 427.2L628.6 417.1L625.2 427.2L628.6 437.3Z"/><path fill="#EC0C1A" d="M705.5 427.2L686.7 417.1L690.1 427.2L686.7 437.3Z"/>
<line y1="457.5" y2="627" x1="684.6" x2="684.6" stroke="#139A41" stroke-width="2.2"/><path fill="#139A41" d="M684.6 443.2L674.2 461.7L684.6 458.5L695 461.7Z"/><path fill="#139A41" d="M684.6 641.3L674.2 622.8L684.6 626L695 622.8Z"/>
<text class="ttl" transform="translate(661.6 88.8) scale(1.08 1)" x="-92.47 -76.04 -56.35 -42.13 -32.65 -17.69 -5.9 6.32 22.01 36.44 50.87 65.09 79.84 93.63">HOW TO MEASURE</text>
<text class="lb" style="fill:#F58F10;stroke:#F58F10" transform="translate(657.5 306.6) scale(1.08 1)" x="-15.05 -6.48 1.45 8.74 15.86">CHEST</text>
<text class="lb" style="fill:#259DDC;stroke:#259DDC" transform="translate(658 356.1) scale(1.08 1)" x="-12.92 -2.64 3.21 8.44 15.5">WAIST</text>
<text class="lb" style="fill:#EC0C1A;stroke:#EC0C1A" transform="translate(657.7 422.3) scale(1.08 1)" x="-9.11 -3.12 2.29 9.76">HIPS</text>
<text class="lb" style="fill:#139A41;stroke:#139A41" transform="translate(680.3 542.1) rotate(-90) scale(1.08 1)" x="-31.7 -25.54 -17.3 -11.91 -5.75 2.49 8 13.1 20.15 28.62">INSIDE LEG</text>
<text class="hgt" transform="translate(773.2 388.4) rotate(-90) scale(1.08 1)" x="-44.28 -33.66 -26.6 -18.22 -6.28 4.11 11.09 16.36 25.05 37.45 47.07">HEIGHT (CM)</text>
</g>
</svg>
</body></html>
